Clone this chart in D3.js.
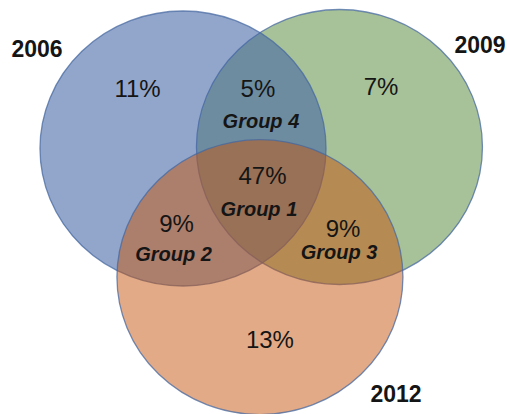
<!DOCTYPE html>
<html>
<head>
<meta charset="utf-8">
<script src="https://cdn.jsdelivr.net/npm/d3@7/dist/d3.min.js"></script>
<style>
  html, body { margin: 0; padding: 0; background: #ffffff; }
  svg { display: block; }
  text { font-family: "Liberation Sans", Arial, sans-serif; fill: #151515; }
</style>
</head>
<body>
<svg id="chart" width="510" height="414"></svg>
<script>
// Survey years, one circle each
const sets = ["2006", "2009", "2012"];

// Share of respondents in each region of the diagram
const regionValues = [11, 7, 13, 5, 9, 9, 47];
// Which years each region belongs to
const regionMembers = [[0], [1], [2], [0, 1], [0, 2], [1, 2], [0, 1, 2]];
// Group name printed under the share (empty for single-year regions)
const regionGroups = ["", "", "", "Group 4", "Group 2", "Group 3", "Group 1"];

// ---- layout (unit circle coordinates) ----
const circleCenters = [[0, 0], [1.094, -0.011], [0.538, 0.935]];
const valueAnchors = [[-0.318, -0.375], [1.385, -0.389], [0.608, 1.451],
                      [0.524, -0.375], [-0.045, 0.607], [1.119, 0.644], [0.556, 0.258]];
const groupAnchors = [null, null, null,
                      [0.545, -0.149], [-0.066, 0.818], [1.091, 0.804], [0.531, 0.491]];
const setAnchors = [[-1.021, -0.665], [2.077, -0.695], [1.490, 1.844]];

// ---- styles ----
const fills = ["rgb(67,102,165)", "rgb(108,152,85)", "rgb(197,85,13)"];
const fillOpacity = [0.58, 0.6, 0.5];
const drawOrder = [1, 0, 2];   // green underneath, orange on top

const svg = d3.select("#chart");

// one unit = one radius; horizontal and vertical units differ slightly
const x = d3.scaleLinear().domain([-1, 1]).range([40, 326]);
const y = d3.scaleLinear().domain([-1, 1]).range([11, 286]);
const rx = x(1) - x(0);
const ry = y(1) - y(0);

svg.append("g")
  .selectAll("ellipse")
  .data(drawOrder)
  .join("ellipse")
    .attr("cx", i => x(circleCenters[i][0]))
    .attr("cy", i => y(circleCenters[i][1]))
    .attr("rx", rx)
    .attr("ry", ry)
    .attr("fill", i => fills[i])
    .attr("fill-opacity", i => fillOpacity[i])
    .attr("stroke", "rgb(70,104,160)")
    .attr("stroke-opacity", 0.75)
    .attr("stroke-width", 1.3);

const labels = svg.append("g").attr("text-anchor", "middle");

labels.selectAll("text.value")
  .data(regionValues)
  .join("text")
    .attr("class", "value")
    .attr("x", (d, i) => x(valueAnchors[i][0]))
    .attr("y", (d, i) => y(valueAnchors[i][1]))
    .attr("font-size", 24)
    .text(d => d + "%");

labels.selectAll("text.group")
  .data(regionGroups.map((g, i) => ({ g, i })).filter(d => d.g))
  .join("text")
    .attr("class", "group")
    .attr("x", d => x(groupAnchors[d.i][0]))
    .attr("y", d => y(groupAnchors[d.i][1]))
    .attr("font-size", 20)
    .attr("font-weight", "bold")
    .attr("font-style", "italic")
    .text(d => d.g);

labels.selectAll("text.set")
  .data(sets)
  .join("text")
    .attr("class", "set")
    .attr("x", (d, i) => x(setAnchors[i][0]))
    .attr("y", (d, i) => y(setAnchors[i][1]))
    .attr("font-size", 23)
    .attr("font-weight", "bold")
    .text(d => d);
</script>
</body>
</html>
